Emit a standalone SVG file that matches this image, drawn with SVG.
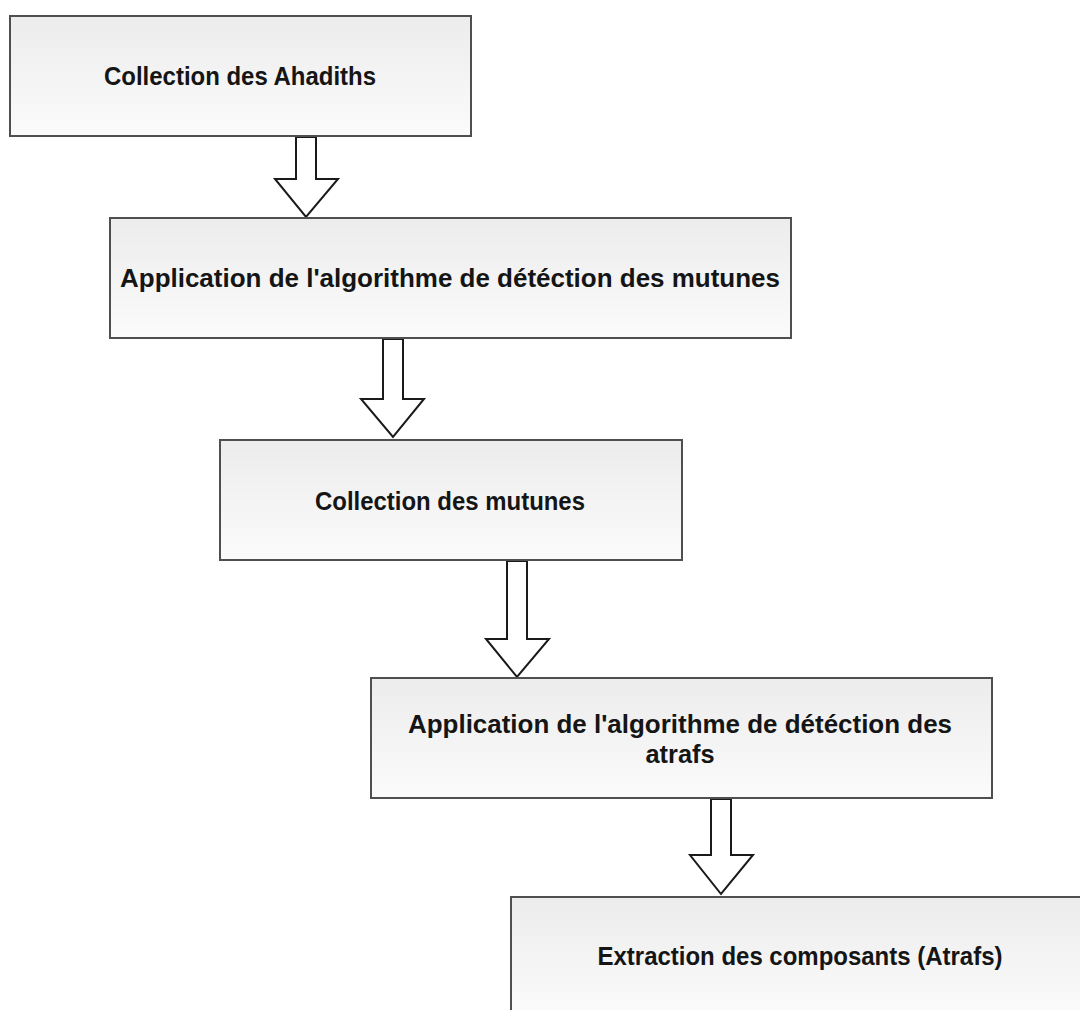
<svg xmlns="http://www.w3.org/2000/svg" width="1080" height="1010" viewBox="0 0 1080 1010">
  <style>
    .box { fill: url(#boxFill); stroke: #4f4f4f; stroke-width: 2; }
    .label { font-family: "Liberation Sans", Arial, sans-serif; font-weight: bold; font-size: 25px; fill: #151515; text-anchor: middle; }
    .flow { fill: #ffffff; stroke: #1a1a1a; stroke-width: 2; stroke-linejoin: miter; }
  </style>
  <defs>
    <linearGradient id="boxFill" x1="0" y1="0" x2="0" y2="1">
      <stop offset="0" stop-color="#ececec"/>
      <stop offset="1" stop-color="#fbfbfb"/>
    </linearGradient>
  </defs>
  <rect width="1080" height="1010" fill="#ffffff"/>

  <!-- hollow block arrows between consecutive steps -->
  <g id="connectors">
    <path class="flow" d="M296,137 L316,137 L316,179 L338,179 L306,217 L275,179 L296,179 Z"/>
    <path class="flow" d="M383,339 L403,339 L403,399 L424,399 L393,437 L361,399 L383,399 Z"/>
    <path class="flow" d="M507,561 L527,561 L527,639 L549,639 L517,677 L486,639 L507,639 Z"/>
    <path class="flow" d="M711,799 L731,799 L731,855 L753,855 L721,894 L690,855 L711,855 Z"/>
  </g>

  <g id="node-collection-ahadiths">
    <rect class="box" x="10" y="16" width="461" height="120"/>
    <text class="label" x="240" y="85" textLength="272" lengthAdjust="spacingAndGlyphs">Collection des Ahadiths</text>
  </g>

  <g id="node-detection-mutunes">
    <rect class="box" x="110" y="218" width="681" height="120"/>
    <text class="label" x="450" y="287" textLength="660" lengthAdjust="spacingAndGlyphs">Application de l'algorithme de détéction des mutunes</text>
  </g>

  <g id="node-collection-mutunes">
    <rect class="box" x="220" y="440" width="462" height="120"/>
    <text class="label" x="450" y="510" textLength="270" lengthAdjust="spacingAndGlyphs">Collection des mutunes</text>
  </g>

  <g id="node-detection-atrafs">
    <rect class="box" x="371" y="678" width="621" height="120"/>
    <text class="label" x="680" y="733" textLength="544" lengthAdjust="spacingAndGlyphs">Application de l'algorithme de détéction des</text>
    <text class="label" x="680" y="763" textLength="69" lengthAdjust="spacingAndGlyphs">atrafs</text>
  </g>

  <g id="node-extraction-atrafs">
    <rect class="box" x="511" y="897" width="580" height="120"/>
    <text class="label" x="800" y="965" textLength="405" lengthAdjust="spacingAndGlyphs">Extraction des composants (Atrafs)</text>
  </g>
</svg>
